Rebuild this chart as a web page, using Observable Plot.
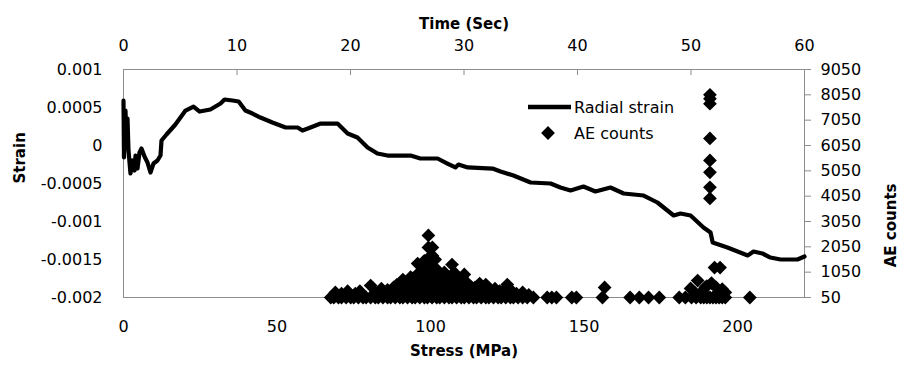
<!DOCTYPE html>
<html><head><meta charset="utf-8">
<script src="https://cdn.jsdelivr.net/npm/d3@7"></script>
<script src="https://cdn.jsdelivr.net/npm/@observablehq/plot@0.6"></script>
<style>
body{margin:0;background:#fff;}
#chart{width:905px;height:369px;}
</style></head><body><div id="chart"></div>
<script>
// ---- Data ----
// Radial strain line (x = stress, MPa)
const strainStress = [0,0.16,0.65,0.98,1.3,1.63,2.28,2.93,3.58,3.91,4.56,5.21,5.86,6.84,7.82,8.79,9.77,11.07,12.05,12.38,14.0,16.9,20.2,22.8,24.8,28.3,31.6,32.9,35.5,37.5,39.7,42.0,44.6,48.5,52.8,56.7,58.3,60.9,64.2,69.7,73.0,76.2,79.5,82.7,86.0,93.5,96.7,102.3,105.5,108.1,109.1,112.1,120.2,122.8,127.0,132.6,139.1,142.3,145.6,149.8,153.7,158.6,162.9,169.4,173.9,179.2,181.4,184.7,188.9,191.2,191.9,196.7,203.3,205.2,208.1,210.7,214.0,219.5,221.8];
const strainValues = [0.00059,-0.000158,0.00046,0.00007,0.000355,-0.000066,-0.000368,-0.000197,-0.000329,-0.000132,-0.000303,-0.000092,-0.00004,-0.000145,-0.000224,-0.000355,-0.000237,-0.000197,-0.000132,0.000066,0.000145,0.000276,0.00046,0.000513,0.000447,0.000474,0.000553,0.000605,0.000592,0.000579,0.00046,0.000421,0.000368,0.000303,0.000237,0.000237,0.000197,0.000237,0.000289,0.000289,0.000158,0.000105,-0.000026,-0.000105,-0.000132,-0.000132,-0.000171,-0.000171,-0.000237,-0.000289,-0.00025,-0.000289,-0.000303,-0.000342,-0.000395,-0.000487,-0.0005,-0.000553,-0.000592,-0.00054,-0.000605,-0.000553,-0.000632,-0.000658,-0.00075,-0.000921,-0.000895,-0.000921,-0.001079,-0.001145,-0.001276,-0.001342,-0.001447,-0.001395,-0.001421,-0.001474,-0.0015,-0.0015,-0.00146];

// AE counts (x = stress, MPa)
const aeStress = [
  // baseline events
  67.5,68.5,70,71,72.5,74,75,76.5,78,79,80.5,82,83,84.5,86,87,88.5,90,91,92.5,94,95,96.5,98,99,100.5,102,103,104.5,106,107,108.5,110,111,112.5,114,115,116.5,118,119,120.5,122,123,124.5,126,127,128.5,130,131.5,133.5,
  138,139.5,141,146,147.5,156,165,168,171,174.5,181,183,185,186.5,188,189,190,191,192,193,194,195,196,204,
  // raised events
  69,71,73,75.5,77,80.5,82,84,86,88,89.5,91,92,93.5,94.5,95.8,96,97,97,98,98,98,
  99.3,99.3,99.3,99.3,99.3,99.3,100.6,100.6,100.6,100.6,100.6,101.5,101.5,101.5,101.5,102.5,102.5,102.5,103.5,103.5,104.5,104.5,104.5,105.5,105.5,
  107,107,107,107,108,108,108,109,109,110,110,111,111,111,112,112,113,113,114.5,116,116,117,118,118,119.5,121,122.5,124,125,125,126.5,128,130,132,
  90,93,95,96.5,96.5,97.5,100,100,102,103,106,106.5,109.5,115,
  85,87,89,92.5,93,94,94,95,95,96,97.5,98.5,98.5,98.5,98.5,99.8,99.8,99.8,100.2,101,101,102,102,103,103,104,105,105,106,106,107.5,108.5,109.5,110.5,110.5,112.5,113.5,
  156.7,184.7,186,187,188.5,189.5,190,191.5,192.5,193,194.3,195,196,
  191,191,191,191,191,191,191,191
];
const aeCounts = [
  50,50,50,50,50,50,50,50,50,50,50,50,50,50,50,50,50,50,50,50,50,50,50,50,50,50,50,50,50,50,50,50,50,50,50,50,50,50,50,50,50,50,50,50,50,50,50,50,50,50,
  50,50,50,50,50,50,50,50,50,50,50,50,50,50,50,50,50,50,50,50,50,50,50,50,
  250,200,300,200,300,520,250,400,350,450,300,760,500,850,600,1390,1000,700,1100,400,800,1500,
  2500,2025,1600,1200,800,450,2025,1700,1300,900,500,1550,1150,750,400,1100,700,350,900,500,1040,700,350,850,450,
  1350,950,550,250,1000,600,300,800,450,650,350,960,550,250,600,300,500,250,450,600,300,400,560,250,350,400,300,350,560,250,300,200,250,150,
  450,400,550,700,350,300,1100,250,700,300,600,250,300,350,
  250,300,550,300,600,400,800,300,650,500,550,300,650,1000,1300,1000,650,250,1500,600,1000,550,900,350,750,550,300,650,450,800,500,750,600,500,800,450,350,
  445,405,250,720,300,450,500,620,1230,450,1230,380,250,
  8050,7900,7700,6330,5460,4990,4400,3960
];

// Axes
const timeTicks = [0,10,20,30,40,50,60];
const stressTicks = [0,50,100,150,200];
const strainTicks = [0.001,0.0005,0,-0.0005,-0.001,-0.0015,-0.002];
const strainTickLabels = ["0.001","0.0005","0","-0.0005","-0.001","-0.0015","-0.002"];
const aeTicks = [50,1050,2050,3050,4050,5050,6050,7050,8050,9050];
const titleTop = "Time (Sec)";
const titleBottom = "Stress (MPa)";
const titleLeft = "Strain";
const titleRight = "AE counts";
const legendLabels = ["Radial strain","AE counts"];

// ---- Scales linking the secondary axes ----
const STRESS_MAX = 221.8, TIME_MAX = 60;
const AE_MIN = 50, AE_MAX = 9050, STRAIN_MIN = -0.002, STRAIN_MAX = 0.001;
const aeToStrain = ae => STRAIN_MIN + (ae - AE_MIN) / (AE_MAX - AE_MIN) * (STRAIN_MAX - STRAIN_MIN);
const timeToStress = t => t / TIME_MAX * STRESS_MAX;

const lineData = strainStress.map((s, i) => ({stress: s, strain: strainValues[i]}));
const aeData = aeStress.map((s, i) => ({stress: s, ae: aeCounts[i]}));
const timePos = timeTicks.map(timeToStress);
const aePos = aeTicks.map(aeToStrain);
const near = (arr, v) => arr.findIndex(a => Math.abs(a - v) < 1e-9);

const W = 905, H = 369, MT = 69, MB = 72, ML = 123, MR = 101;
const GRAY = "#8c8c8c";
const FONT = "DejaVu Sans";
const DOT_R = 6.2;

const plot = Plot.plot({
  width: W, height: H,
  marginTop: MT, marginBottom: MB, marginLeft: ML, marginRight: MR,
  style: {fontFamily: FONT, fontSize: "16px", color: "#000", background: "#fff"},
  x: {domain: [0, STRESS_MAX]},
  y: {domain: [STRAIN_MIN, STRAIN_MAX]},
  marks: [
    Plot.frame({stroke: GRAY}),
    Plot.axisX(stressTicks, {anchor: "bottom", tickSize: 0, tickPadding: 23, label: null, fill: "#000"}),
    Plot.axisX(timePos, {anchor: "top", tickSize: 0, tickPadding: 19, label: null, fill: "#000",
      tickFormat: d => String(timeTicks[near(timePos, d)])}),
    Plot.tickX(timePos, {x: d => d, stroke: GRAY, insetBottom: H - MT - MB - 6}),
    Plot.axisY(strainTicks, {anchor: "left", tickSize: 0, tickPadding: 21, label: null, fill: "#000",
      tickFormat: d => strainTickLabels[near(strainTicks, d)]}),
    Plot.axisY(aePos, {anchor: "right", tickSize: 6, tickPadding: 10, label: null, stroke: GRAY, fill: "#000",
      tickFormat: d => String(aeTicks[near(aePos, d)])}),
    Plot.dot(aeData, {x: "stress", y: d => aeToStrain(d.ae), symbol: "diamond2", r: DOT_R, fill: "#000", stroke: "none"}),
    Plot.line(lineData, {x: "stress", y: "strain", stroke: "#000", strokeWidth: 4.2, strokeLinejoin: "round", strokeLinecap: "round"}),
    Plot.text([titleTop], {text: d => d, frameAnchor: "top", dy: -51, fontWeight: "bold", fontSize: 15}),
    Plot.text([titleBottom], {text: d => d, frameAnchor: "bottom", dy: 58, fontWeight: "bold", fontSize: 15}),
    Plot.text([titleLeft], {text: d => d, frameAnchor: "left", dx: -103, rotate: -90, fontWeight: "bold", fontSize: 15}),
    Plot.text([titleRight], {text: d => d, frameAnchor: "right", dx: 87, rotate: -90, fontWeight: "bold", fontSize: 15})
  ]
});

// Legend inside the plot area
const svg = d3.select(plot);
const lg = svg.append("g").attr("font-family", FONT).attr("font-size", 16).attr("text-anchor", "start");
lg.append("line").attr("x1", 528).attr("x2", 571).attr("y1", 107).attr("y2", 107)
  .attr("stroke", "#000").attr("stroke-width", 4.5);
lg.append("text").attr("x", 574).attr("y", 107).attr("dy", "0.35em").text(legendLabels[0]);
lg.append("path").attr("transform", "translate(548,133)")
  .attr("d", d3.symbol(d3.symbolDiamond2 || d3.symbolDiamond, Math.PI * DOT_R * DOT_R)()).attr("fill", "#000");
lg.append("text").attr("x", 574).attr("y", 133).attr("dy", "0.35em").text(legendLabels[1]);

document.getElementById("chart").appendChild(plot);
</script>
</body></html>
